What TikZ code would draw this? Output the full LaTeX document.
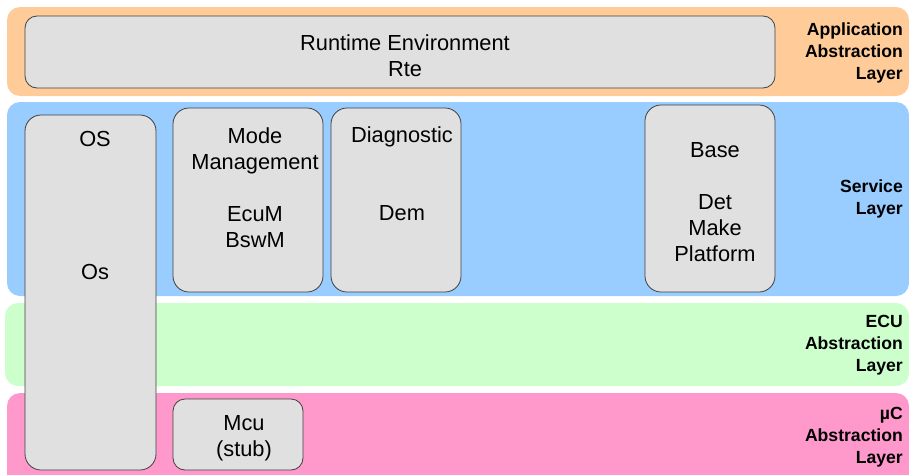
\documentclass[tikz,border=0pt]{standalone}
\usepackage{fontspec}
\setmainfont{Liberation Sans}
\definecolor{appcol}{HTML}{FFCC99}
\definecolor{svccol}{HTML}{99CCFF}
\definecolor{ecucol}{HTML}{CCFFCC}
\definecolor{uccol}{HTML}{FF99CC}
\definecolor{boxcol}{HTML}{E0E0E0}
\definecolor{edgecol}{HTML}{404040}

\tikzstyle{band} = [rectangle, rounded corners=13pt, inner sep=0pt]
\tikzstyle{block} = [rectangle, draw=edgecol, fill=boxcol, line width=0.8pt, rounded corners=16pt, inner sep=0pt]
\tikzstyle{txt} = [align=center, font=\fontsize{21.8}{26}\selectfont]
\tikzstyle{layer} = [anchor=east, align=right, inner sep=0pt, font=\fontsize{17.6}{22}\selectfont\bfseries]

\begin{document}
\begin{tikzpicture}[x=1pt,y=-1pt]
\useasboundingbox (0,0) rectangle (909,474);

% layers
\node[band, fill=appcol, minimum width=902pt, minimum height=89pt](app) at (458,51.5){};
\node[band, fill=svccol, minimum width=902pt, minimum height=194pt](svc) at (458,199){};
\node[band, fill=ecucol, minimum width=904pt, minimum height=83pt](ecu) at (457,344.5){};
\node[band, fill=uccol, minimum width=902pt, minimum height=97pt](uc) at (458,441.5){};

\node[layer](applabel) at (903,52.5){Application\\Abstraction\\Layer};
\node[layer](svclabel) at (903,199){Service\\Layer};
\node[layer](eculabel) at (903,345){ECU\\Abstraction\\Layer};
\node[layer](uclabel) at (903,437){µC\\Abstraction\\Layer};

% modules
\node[block, rounded corners=12pt, minimum width=750pt, minimum height=72pt](rte) at (400,52){};
\node[txt](rtetext) at (405,56){Runtime Environment\\Rte};

\node[block, minimum width=131pt, minimum height=355pt](os) at (90.5,292.5){};
\node[txt](ostitle) at (95,139){OS};
\node[txt](osmod) at (95,272){Os};

\node[block, minimum width=150pt, minimum height=184pt](mode) at (248,200){};
\node[txt](modetext) at (255,187.5){Mode\\Management\\[26pt]EcuM\\BswM};

\node[block, minimum width=130pt, minimum height=184pt](diag) at (396,200){};
\node[txt](diagtext) at (402,173.5){Diagnostic\\[52pt]Dem};

\node[block, minimum width=130pt, minimum height=187pt](base) at (710,198.5){};
\node[txt](basetext) at (715,202){Base\\[26pt]Det\\Make\\Platform};

\node[block, rounded corners=12pt, minimum width=130pt, minimum height=71pt](mcu) at (238,434.5){};
\node[txt](mcutext) at (244,438){Mcu\\(stub)};
\end{tikzpicture}
\end{document}
